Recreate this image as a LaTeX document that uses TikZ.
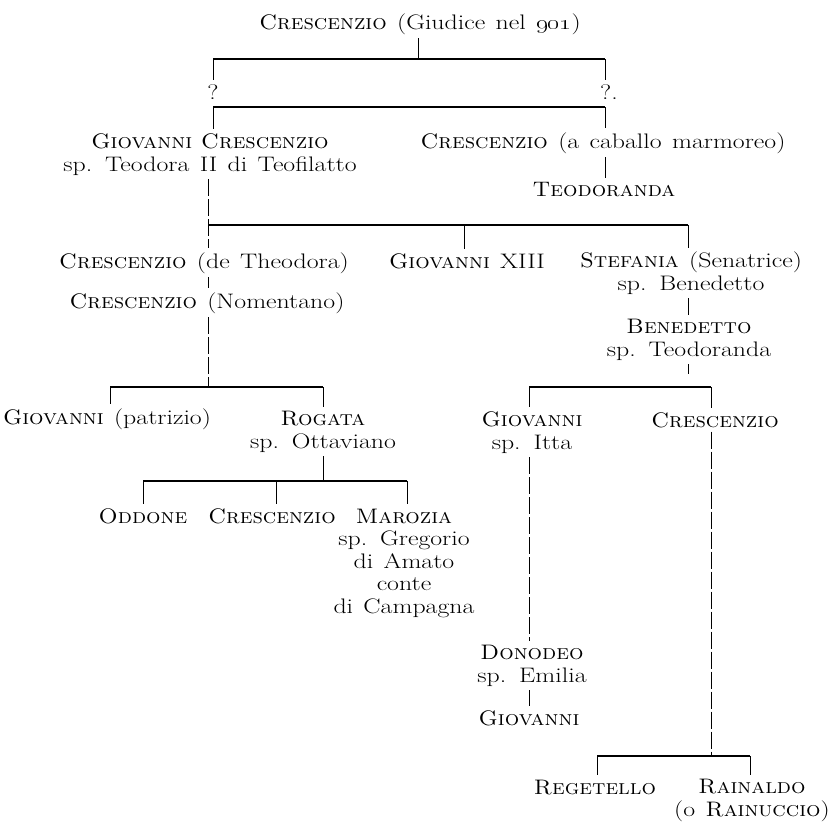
\documentclass[tikz,border=0pt]{standalone}
\usepackage{graphicx}
\newcommand\personfont{\fontsize{21}{22.5}\selectfont\spaceskip=0.4em\relax}
\newcommand\nm[1]{\scalebox{0.88}[1]{\textsc{#1}}}
\begin{document}
\begin{tikzpicture}[x=1pt, y=-1pt,
    person/.style={font=\personfont, align=center, inner sep=0pt, anchor=base,
        xscale=1.23, transform shape},
    bar/.style={line width=2.6pt},
    down/.style={line width=0.8pt, shorten >=4pt},
    up/.style={line width=0.8pt, shorten <=4pt},
    link/.style={line width=0.8pt, shorten <=4pt, shorten >=4pt},
    broken/.style={link, dash pattern=on 17pt off 3pt}]
    \useasboundingbox (0,0) rectangle (831,822);

    % Generations (multi-line nodes sit on their last line)
    \node[person] (top) at (420,29) {\nm{Crescenzio} (Giudice nel \oldstylenums{901})};
    \node[person] (q1) at (213,99) {?};
    \node[person] (q2) at (609,99) {?.};
    \node[person] (gc) at (210,171) {\nm{Giovanni Crescenzio}\\sp. Teodora II di Teofilatto};
    \node[person] (cm) at (603,148) {\nm{Crescenzio} (a caballo marmoreo)};
    \node[person] (td) at (604,196) {\nm{Teodoranda}};
    \node[person] (dt) at (204,268) {\nm{Crescenzio} (de Theodora)};
    \node[person] (g13) at (467,268) {\nm{Giovanni} XIII};
    \node[person] (st) at (691,290) {\nm{Stefania} (Senatrice)\\sp. Benedetto};
    \node[person] (nm) at (207,308) {\nm{Crescenzio} (Nomentano)};
    \node[person] (be) at (689,356) {\nm{Benedetto}\\sp. Teodoranda};
    \node[person] (gp) at (107,424) {\nm{Giovanni} (patrizio)};
    \node[person] (rg) at (323,448) {\nm{Rogata}\\sp. Ottaviano};
    \node[person] (gi) at (532,449) {\nm{Giovanni}\\sp. Itta};
    \node[person] (cr) at (715,427) {\nm{Crescenzio}};
    \node[person] (od) at (143,523) {\nm{Oddone}};
    \node[person] (c3) at (272,523) {\nm{Crescenzio}};
    \node[person] (mz) at (404,613) {\nm{Marozia}\\sp. Gregorio\\di Amato\\conte\\di Campagna};
    \node[person] (dn) at (532,682) {\nm{Donodeo}\\sp. Emilia};
    \node[person] (g2) at (529,725) {\nm{Giovanni}};
    \node[person] (re) at (595,794) {\nm{Regetello}};
    \node[person] (ra) at (752,816) {\nm{Rainaldo}\\(o \nm{Rainuccio})};

    % Bar ends
    \coordinate (b1c) at (418,59);
    \coordinate (b1l) at (213,59);  \coordinate (b1r) at (605,59);
    \coordinate (b2l) at (213,107); \coordinate (b2r) at (605,107);
    \coordinate (b3l) at (208,225); \coordinate (b3m) at (464,225); \coordinate (b3r) at (688,225);
    \coordinate (b4l) at (110,387); \coordinate (b4m) at (208,387); \coordinate (b4r) at (323,387);
    \coordinate (b5l) at (143,481); \coordinate (b5m) at (276,481); \coordinate (b5r) at (407,481);
    \coordinate (b6l) at (529,387); \coordinate (b6r) at (711,387);
    \coordinate (b7l) at (597,756); \coordinate (b7r) at (750,756);
    \coordinate (bet) at (688,374);

    % Bars
    \foreach \a/\b in {b1l/b1r, b2l/b2r, b3l/b3r, b4l/b4r, b5l/b5r, b6l/b6r, b7l/b7r} {
        \draw[bar] (\a) -- (\b);
    }

    % Ticks from bars down to children
    \draw[down] (b1l) -- (b1l |- q1.north);
    \draw[down] (b1r) -- (b1r |- q2.north);
    \draw[down] (b2l) -- (b2l |- gc.north);
    \draw[down] (b2r) -- (b2r |- cm.north);
    \draw[down] (b3m) -- (b3m |- g13.north);
    \draw[down] (b3r) -- (b3r |- st.north);
    \draw[down] (b4l) -- (b4l |- gp.north);
    \draw[down] (b4r) -- (b4r |- rg.north);
    \draw[down] (b5l) -- (b5l |- od.north);
    \draw[down] (b5m) -- (b5m |- c3.north);
    \draw[down] (b5r) -- (b5r |- mz.north);
    \draw[down] (b6l) -- (b6l |- gi.north);
    \draw[down] (b6r) -- (b6r |- cr.north);
    \draw[down] (b7l) -- (b7l |- re.north);
    \draw[down] (b7r) -- (b7r |- ra.north);

    % Parents up to bars
    \draw[up] (b1c |- top.south) -- (b1c);
    \draw[up] (b4r |- rg.south) -- (b4r |- b5m);
    \draw[up] (bet |- be.south) -- (bet);

    % Single lines of descent
    \draw[link] (b2r |- cm.south) -- (b2r |- td.north);
    \draw[link] (b3r |- st.south) -- (b3r |- be.north);
    \draw[broken] (b3l |- gc.south) -- (b3l |- dt.north);
    \draw[link] (b3l |- dt.south) -- (b3l |- nm.north);
    \draw[broken, shorten >=0pt] (b4m |- nm.south) -- (b4m);
    \draw[broken] (b6l |- gi.south) -- (b6l |- dn.north);
    \draw[link] (b6l |- dn.south) -- (b6l |- g2.north);
    \draw[broken, shorten >=0pt] (b6r |- cr.south) -- (b6r |- b7r);

\end{tikzpicture}
\end{document}
